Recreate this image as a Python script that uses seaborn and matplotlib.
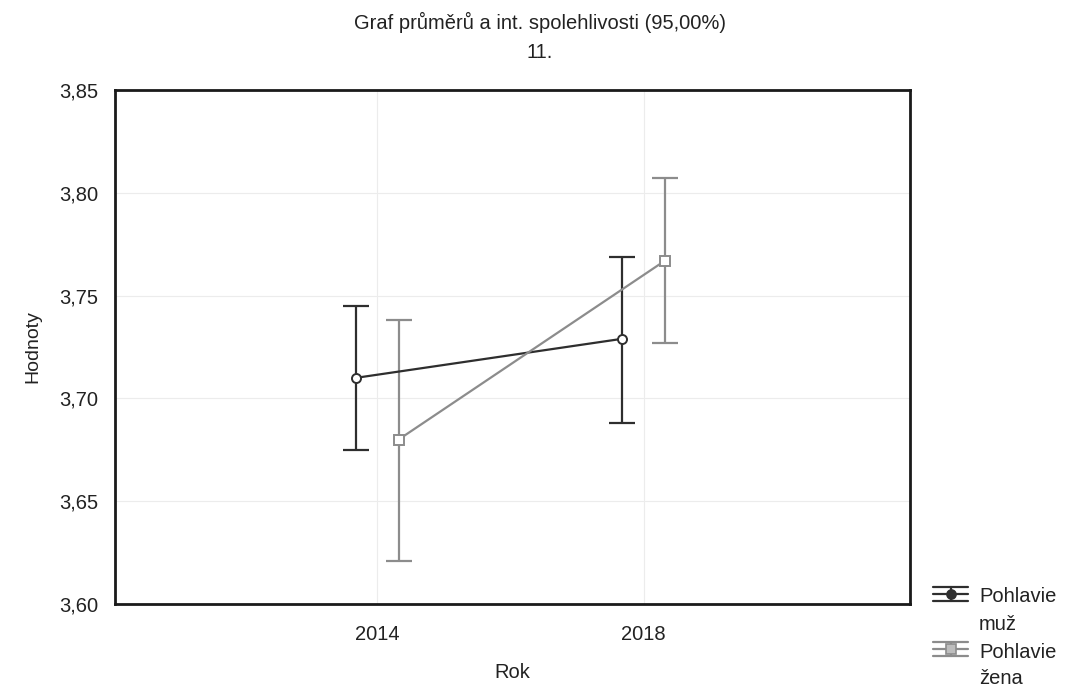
import numpy as np
import pandas as pd
import matplotlib
matplotlib.use("Agg")
import matplotlib.pyplot as plt
from matplotlib.lines import Line2D
import seaborn as sns

years = ["2014", "2018"]
groups = ["Pohlavie\nmuž", "Pohlavie\nžena"]
mean_muz = [3.710, 3.729]
low_muz = [3.675, 3.688]
high_muz = [3.745, 3.769]
mean_zena = [3.680, 3.767]
low_zena = [3.621, 3.727]
high_zena = [3.738, 3.807]
yticks = [3.60, 3.65, 3.70, 3.75, 3.80, 3.85]

sns.set_theme(style="white")
plt.rcParams['font.family'] = ['Liberation Sans', 'DejaVu Sans']

W, H = 1065, 688
fig = plt.figure(figsize=(W / 100, H / 100), dpi=100)
ax = fig.add_axes([115 / W, 1 - 604 / H, 795 / W, 514 / H])

df = pd.DataFrame({
    "Rok": years * 2,
    "Hodnoty": mean_muz + mean_zena,
    "Pohlavie": [groups[0]] * 2 + [groups[1]] * 2,
})
colors = {groups[0]: "#2e2e2e", groups[1]: "#8c8c8c"}
markers = {groups[0]: "o", groups[1]: "s"}
dodge = 0.08
txtc = "#222222"

# faint grid
for i in range(len(years)):
    ax.axvline(i, color="#ececec", lw=0.8, zorder=0)
for t in yticks[1:-1]:
    ax.axhline(t, color="#ececec", lw=0.8, zorder=0)

for k, (g, m, lo, hi) in enumerate([(groups[0], mean_muz, low_muz, high_muz),
                                    (groups[1], mean_zena, low_zena, high_zena)]):
    off = -dodge if k == 0 else dodge
    xs = np.arange(len(years)) + off
    sub = df[df["Pohlavie"] == g].copy()
    sub["x"] = xs
    m = np.array(m); lo = np.array(lo); hi = np.array(hi)
    ax.errorbar(xs, m, yerr=[m - lo, hi - m], fmt="none", ecolor=colors[g],
                elinewidth=1.6, capsize=9.7, capthick=1.6, zorder=2)
    sns.lineplot(data=sub, x="x", y="Hodnoty", color=colors[g], lw=1.6,
                 marker=markers[g], markersize=6.5, markerfacecolor="white",
                 markeredgecolor=colors[g], markeredgewidth=1.4, ax=ax, zorder=3,
                 legend=False)

ax.set_xlim(-0.985, 2.0)
ax.set_ylim(3.60, 3.85)
ax.set_xticks(range(len(years)))
ax.set_xticklabels(years)
ax.set_yticks(yticks)
ax.set_yticklabels([f"{t:.2f}".replace(".", ",") for t in yticks])
ax.tick_params(axis="both", labelsize=14.5, length=2, width=0.8, color="#999999",
               colors=txtc)
ax.tick_params(axis="x", pad=13)
ax.tick_params(axis="y", pad=10)
ax.set_xlabel("Rok", fontsize=14.5, labelpad=14, color=txtc)
ax.set_ylabel("Hodnoty", fontsize=14, labelpad=13, color=txtc)
for s in ax.spines.values():
    s.set_visible(True)
    s.set_color("#1a1a1a")
    s.set_linewidth(2)

fig.text(540 / W, 1 - 22 / H, "Graf průměrů a int. spolehlivosti (95,00%)", ha="center",
         va="center", fontsize=14.5, color=txtc)
fig.text(540 / W, 1 - 52 / H, "11.", ha="center", va="center", fontsize=14.5, color=txtc)

# legend (drawn manually to reproduce the error-bar glyph)
glyph_y = [594, 649]
text_y = [597, 652]
for k, g in enumerate(groups):
    c = colors[g]
    cy = glyph_y[k]
    x0, x1, xc = 933, 968, 950.5
    for dy in (-7, 0, 7):
        fig.add_artist(Line2D([x0 / W, x1 / W], [1 - (cy + dy) / H] * 2,
                              color=c, lw=1.6, transform=fig.transFigure))
    fig.add_artist(Line2D([xc / W, xc / W], [1 - (cy - 7) / H, 1 - (cy + 7) / H],
                          color=c, lw=1.6, transform=fig.transFigure))
    fig.add_artist(Line2D([xc / W], [1 - cy / H], marker=markers[g], markersize=6.5,
                          markerfacecolor=c if k == 0 else "#bdbdbd",
                          markeredgecolor=c, markeredgewidth=1.2, lw=0,
                          transform=fig.transFigure))
    lines = g.split("\n")
    fig.text(979 / W, 1 - text_y[k] / H, lines[0], ha="left", va="center",
             fontsize=14.5, color=txtc)
    fig.text(979 / W, 1 - (text_y[k] + 27) / H, lines[1], ha="left", va="center",
             fontsize=14.5, color=txtc)

fig.savefig("out.png", dpi=100, facecolor="white")
